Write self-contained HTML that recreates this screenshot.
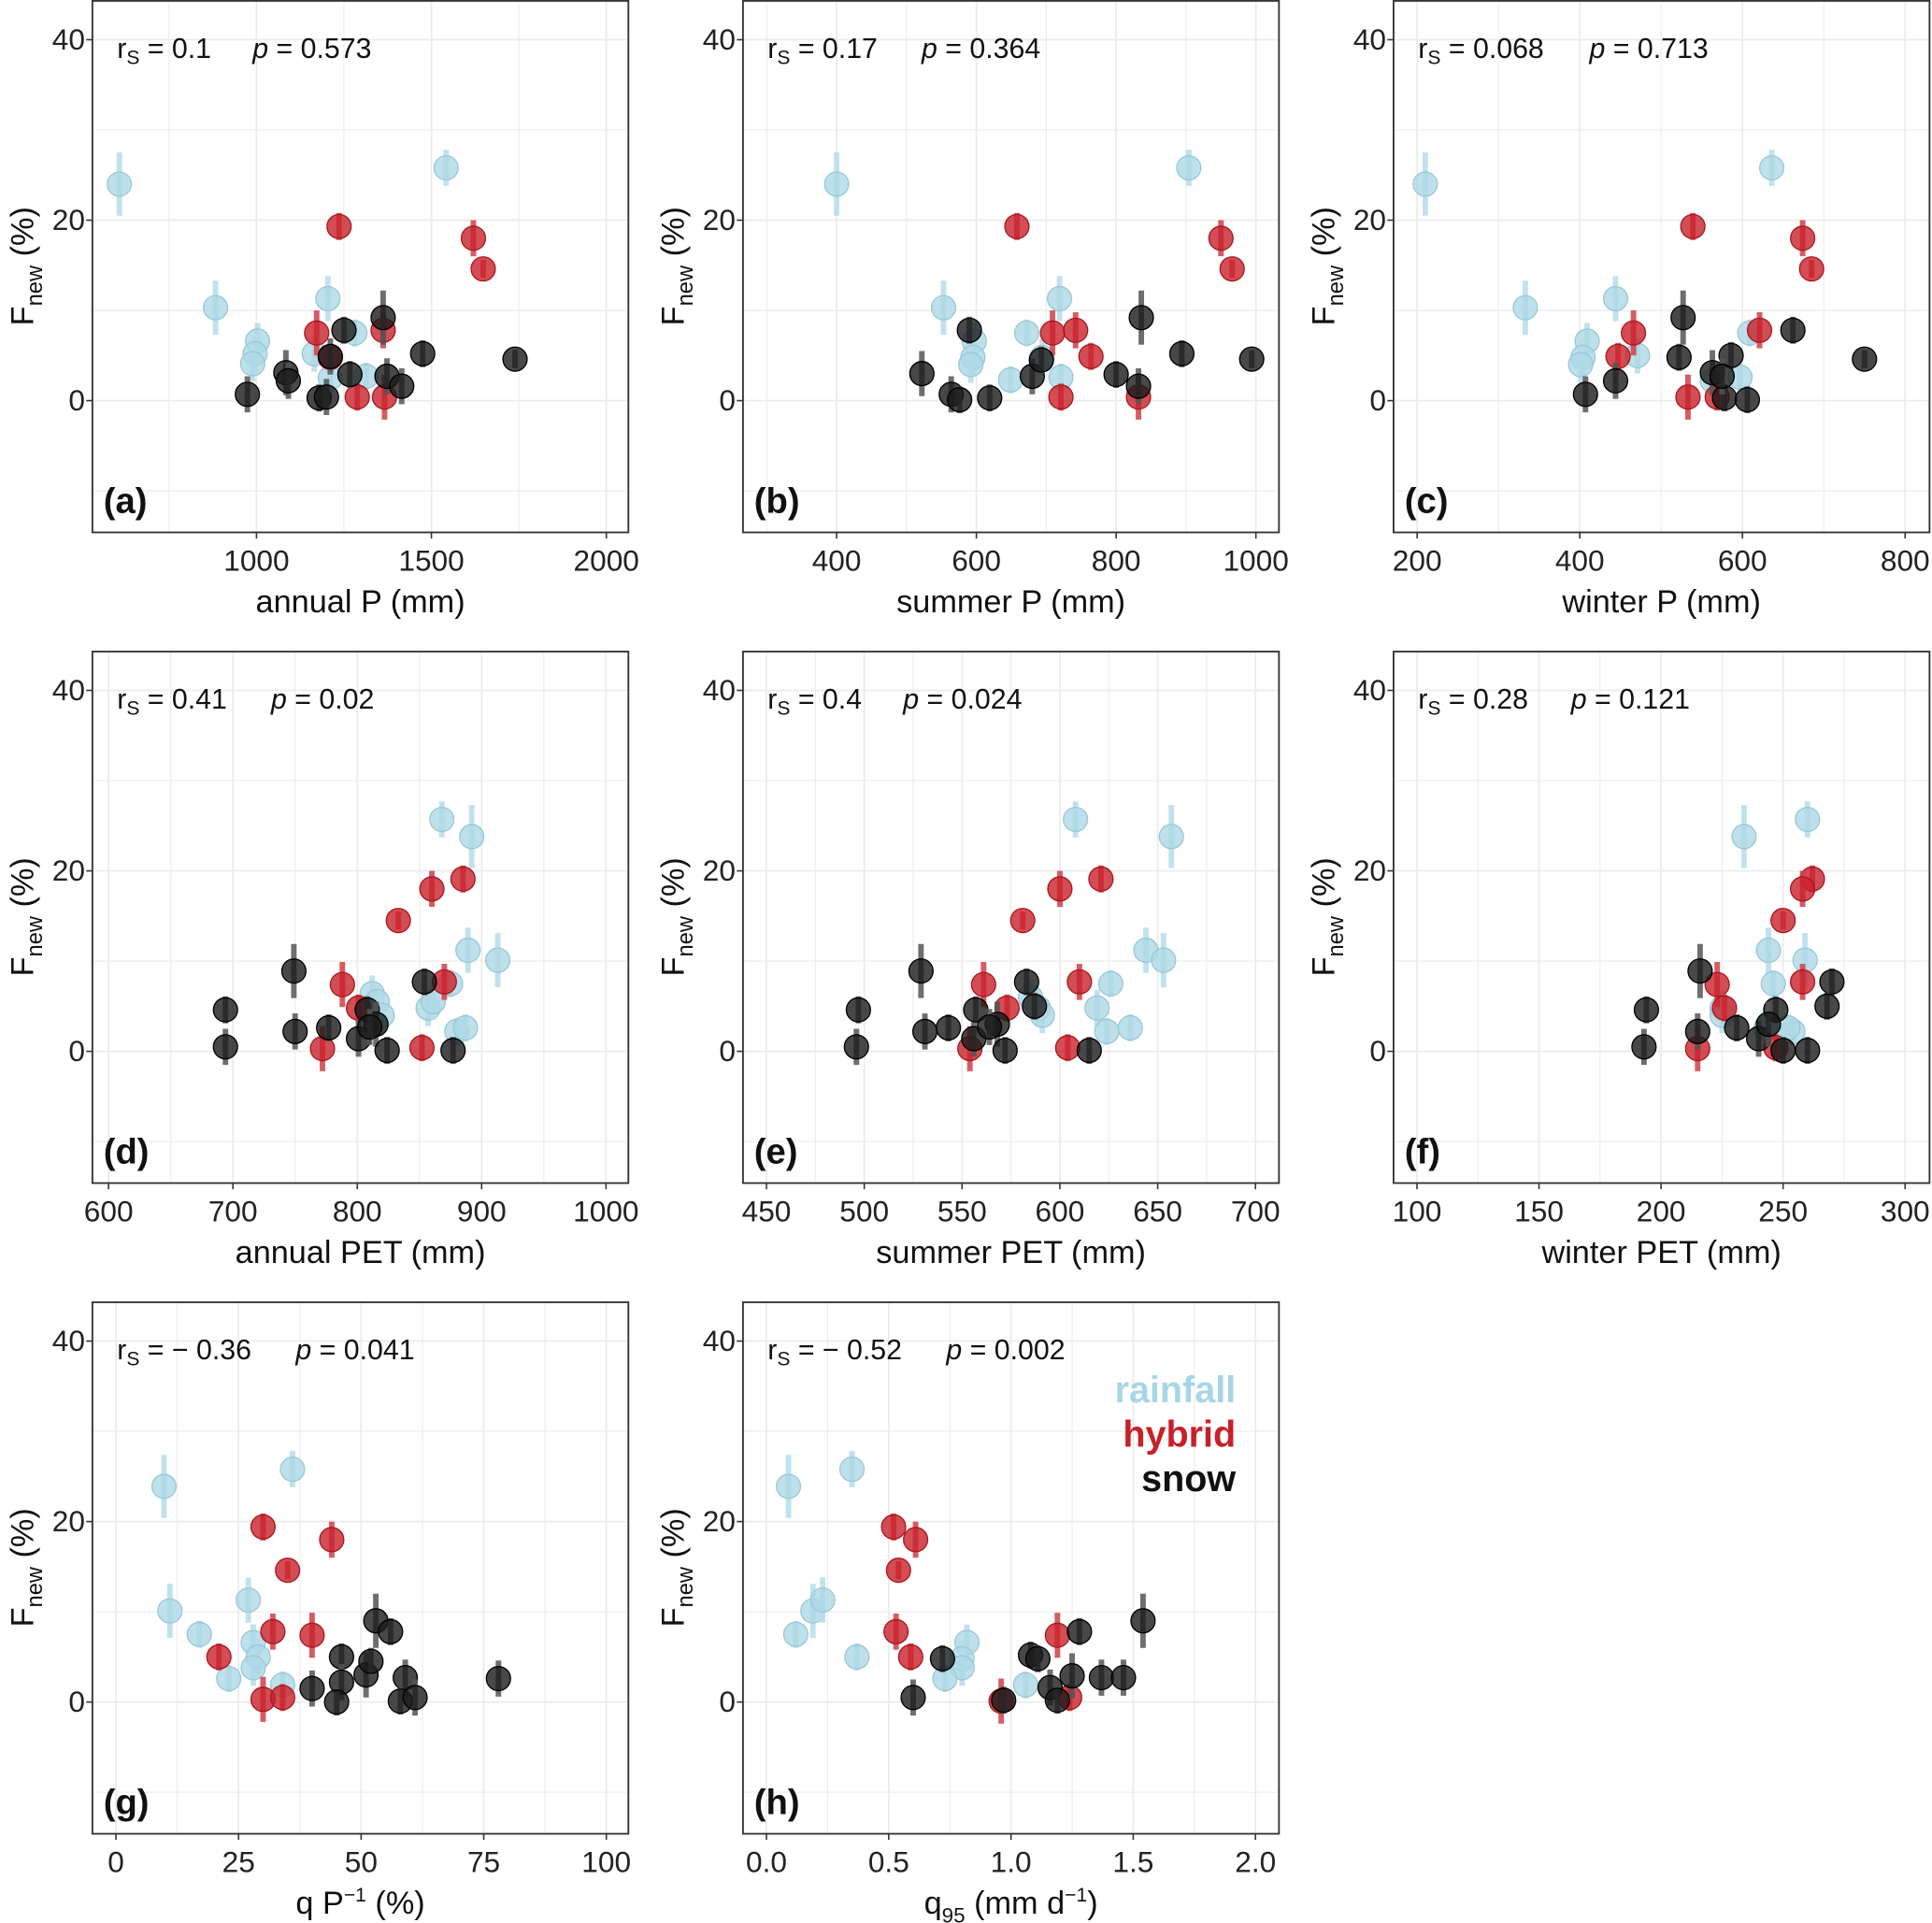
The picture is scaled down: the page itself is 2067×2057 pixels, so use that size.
<!DOCTYPE html>
<html><head><meta charset="utf-8"><style>
html,body{margin:0;padding:0;background:#fff;}
svg{display:block;font-family:"Liberation Sans",sans-serif;}
</style></head><body>
<svg id="fig" width="2067" height="2057" viewBox="0 0 1568 1560.4" xmlns="http://www.w3.org/2000/svg"></svg>
<script>
// data: [x, Fnew(%), errHalf]
const aRain=[[608,24,3.5],[883,10.3,3],[1003,6.6,2],[996,5.2,2],[989,4.1,2],[1165,5.2,2],[1204,11.3,2.5],[1211,2.5,2],[1281,7.5,1.5],[1313,2.7,1.5],[1542,25.8,2]];
const aHybrid=[[1236,19.3,1.5],[1172,7.5,2.5],[1211,4.8,1.5],[1288,0.4,1.5],[1362,7.8,2],[1366,0.4,2.5],[1620,18,2],[1648,14.6,1]];
const aSnow=[[974,0.7,2],[1084,3.1,2.5],[1091,2.2,2],[1179,0.3,1.5],[1200,0.4,2],[1211,4.9,2],[1250,7.8,1.5],[1267,2.9,1.5],[1362,9.2,3],[1373,2.7,2],[1415,1.6,2],[1475,5.2,1.5],[1739,4.6,1]];
const bRain=[[400,24,3.5],[553,10.3,3],[597,6.6,2],[595,4.8,2],[592,4,2],[672,7.5,1.5],[719,11.3,2.5],[721,2.6,1.5],[694,4.8,2],[649,2.3,1.5],[904,25.8,2]];
const bHybrid=[[658,19.3,1.5],[709,7.5,2.5],[742,7.8,2],[764,4.9,1.5],[721,0.4,1.5],[832,0.4,2.5],[950,18,2],[966,14.6,1]];
const bSnow=[[522,3,2.5],[564,0.7,2],[576,0.1,1.5],[619,0.3,1.5],[590,7.8,1.5],[680,2.7,2],[693,4.5,1.5],[800,2.9,1.5],[832,1.6,2],[836,9.2,3],[894,5.2,1.5],[994,4.6,1]];
const cRain=[[210,24,3.5],[333,10.3,3],[444,11.3,2.5],[409,6.6,2],[404,4.8,2],[401,4,2],[471,5,2],[636,25.8,2],[597,2.6,1.5],[563,2.2,1.5],[609,7.5,1.5]];
const cHybrid=[[539,19.3,1.5],[466,7.5,2.5],[447,4.9,1.5],[533,0.4,2.5],[569,0.4,1.5],[621,7.8,2],[674,18,2],[685,14.6,1]];
const cSnow=[[407,0.7,2],[444,2.2,2],[527,9.2,3],[522,4.8,1.5],[563,3.1,2.5],[586,5,1.5],[578,0.3,1.5],[606,0.1,1.5],[662,7.8,1.5],[750,4.6,1],[575,2.7,2]];
const dRain=[[868,25.7,2],[892,23.8,3.5],[889,11.2,2.5],[913,10.1,3],[812,6.4,2],[816,5.5,2],[857,4.8,2],[861,5.5,2],[875,7.5,1.5],[880,2.2,1.5],[887,2.6,1.5],[820,4,2]];
const dHybrid=[[885,19.1,1.5],[860,18,2],[833,14.5,1],[788,7.4,2.5],[870,7.7,2],[801,4.8,1.5],[772,0.3,2.5],[852,0.4,1.5]];
const dSnow=[[694,0.5,2],[694,4.6,1.5],[749,8.9,3],[750,2.2,2],[777,2.6,1.5],[801,1.4,2],[808,4.6,1.5],[815,3,2.5],[824,0.1,1.5],[854,7.7,1.5],[877,0.1,1.5],[810,2.7,2]];
const eRain=[[608,25.7,2],[657,23.8,3.5],[644,11.2,2.5],[653,10.1,3],[619,4.8,2],[626,7.5,1.5],[624,2.2,1.5],[636,2.6,1.5],[589,4.8,2],[591,4,2],[585,6,2]];
const eHybrid=[[621,19.1,1.5],[600,18,2],[581,14.5,1],[561,7.4,2.5],[610,7.7,2],[573,4.8,1.5],[554,0.3,2.5],[604,0.4,1.5]];
const eSnow=[[496,0.5,2],[497,4.6,1.5],[529,8.9,3],[531,2.2,2],[543,2.6,1.5],[556,1.4,2],[557,4.6,1.5],[568,3,2.5],[572,0.1,1.5],[583,7.7,1.5],[615,0.1,1.5],[564,2.7,2],[587,5,1.5]];
const fRain=[[260,25.7,2],[234,23.8,3.5],[244,11.2,2.5],[259,10.1,3],[246,7.5,1.5],[225,4.8,2],[225,4,2],[243,2.6,1.5],[254,2.2,1.5],[252,2.6,1.5]];
const fHybrid=[[262,19.1,1.5],[258,18,2],[250,14.5,1],[223,7.4,2.5],[258,7.7,2],[226,4.8,1.5],[215,0.3,2.5],[247,0.4,1.5]];
const fSnow=[[193,0.5,2],[194,4.6,1.5],[216,8.9,3],[215,2.2,2],[231,2.6,1.5],[240,1.4,2],[247,4.6,1.5],[244,3,2.5],[250,0.1,1.5],[270,7.7,1.5],[260,0.1,1.5],[268,5,1.5]];
const gRain=[[36,25.8,2],[9.8,23.9,3.5],[11,10.1,3],[27,11.3,2.5],[17,7.5,1.5],[28,6.6,2],[29,5,2],[28,3.8,2],[23,2.6,1.5],[34,1.9,1.5]];
const gHybrid=[[30,19.4,1.5],[35,14.6,1],[44,18,2],[32,7.8,2],[40,7.4,2.5],[21,5,1.5],[30,0.3,2.5],[34,0.5,1.5]];
const gSnow=[[53,9,3],[56,7.8,1.5],[46,5,1.5],[40,1.5,2],[46,2.2,2],[45,0,1.5],[51,3,2.5],[52,4.5,1.5],[59,2.7,2],[58,0.1,1.5],[61,0.5,2],[78,2.6,2]];
const hRain=[[0.35,25.8,2],[0.09,23.9,3.5],[0.19,10.1,3],[0.23,11.3,2.5],[0.12,7.5,1.5],[0.37,5,1.5],[0.82,6.6,2],[0.8,4.8,2],[0.8,3.8,2],[0.73,2.6,1.5],[1.06,1.9,1.5]];
const hHybrid=[[0.52,19.4,1.5],[0.54,14.6,1],[0.61,18,2],[0.53,7.8,2],[0.59,5,1.5],[1.19,7.4,2.5],[0.96,0.1,2.5],[1.24,0.5,1.5]];
const hSnow=[[0.6,0.5,2],[0.72,4.8,1.5],[1.08,5.2,1.5],[1.11,4.8,1.5],[1.16,1.6,2],[1.19,0.2,1.5],[1.25,2.9,2.5],[1.28,7.8,1.5],[1.37,2.7,2],[1.46,2.7,2],[1.54,9,3],[0.97,0.2,1.5]];
const yTicks=[0,20,40];
const yGrid=[-10,0,10,20,30,40];

const panels=[
 {id:'a',left:75,top:0,dom:[531,2063],ticks:[1000,1500,2000],minor:[750,1250,1750],xlab:'annual P (mm)',rs:'0.1',p:'0.573',px:205,data:[aRain,aHybrid,aSnow]},
 {id:'b',left:603,top:0,dom:[266,1033],ticks:[400,600,800,1000],minor:[300,500,700,900],xlab:'summer P (mm)',rs:'0.17',p:'0.364',px:748,data:[bRain,bHybrid,bSnow]},
 {id:'c',left:1131,top:0,dom:[171,830],ticks:[200,400,600,800],minor:[300,500,700],xlab:'winter P (mm)',rs:'0.068',p:'0.713',px:1290,data:[cRain,cHybrid,cSnow]},
 {id:'d',left:75,top:528,dom:[587,1018],ticks:[600,700,800,900,1000],minor:[650,750,850,950],xlab:'annual PET (mm)',rs:'0.41',p:'0.02',px:220,data:[dRain,dHybrid,dSnow]},
 {id:'e',left:603,top:528,dom:[438,712],ticks:[450,500,550,600,650,700],minor:[475,525,575,625,675],xlab:'summer PET (mm)',rs:'0.4',p:'0.024',px:733,data:[eRain,eHybrid,eSnow]},
 {id:'f',left:1131,top:528,dom:[90.4,310],ticks:[100,150,200,250,300],minor:[125,175,225,275],xlab:'winter PET (mm)',rs:'0.28',p:'0.121',px:1275,data:[fRain,fHybrid,fSnow]},
 {id:'g',left:75,top:1056,dom:[-4.8,104.5],ticks:[0,25,50,75,100],minor:[12.5,37.5,62.5,87.5],xlab:'q P<tspan dy="-10" font-size="16">−1</tspan><tspan dy="10"> (%)</tspan>',rs:'− 0.36',p:'0.041',px:240,data:[gRain,gHybrid,gSnow]},
 {id:'h',left:603,top:1056,dom:[-0.096,2.096],ticks:[0,0.5,1,1.5,2],minor:[0.25,0.75,1.25,1.75],tl:['0.0','0.5','1.0','1.5','2.0'],xlab:'q<tspan dy="7" font-size="17">95</tspan><tspan dy="-7"> (mm d</tspan><tspan dy="-10" font-size="16">−1</tspan><tspan dy="10">)</tspan>',rs:'− 0.52',p:'0.002',px:768,data:[hRain,hHybrid,hSnow]}
];
const W=435,H=432,YMIN=-14.6,YMAX=44.4;
const fills=['#add8e6','#c8202a','#1a1a1a'];
const strokes=['#9cc7d6','#a81820','#000'];
const bars=['#b7dde9','#d0404a','#555'];
const svg=document.getElementById('fig');
const NS='http://www.w3.org/2000/svg';
function mk(tag,attrs,parent){const e=document.createElementNS(NS,tag);for(const k in attrs)e.setAttribute(k,attrs[k]);(parent||svg).appendChild(e);return e;}
panels.forEach(P=>{
 const g=mk('g',{});
 
 
 const sx=v=>P.left+(v-P.dom[0])/(P.dom[1]-P.dom[0])*W;
 const sy=v=>P.top+(YMAX-v)/(YMAX-YMIN)*H;
 mk('rect',{x:P.left,y:P.top,width:W,height:H,fill:'#fff'},g);
 yGrid.forEach(v=>{const l=mk('line',{x1:P.left,x2:P.left+W,y1:sy(v),y2:sy(v),stroke:'#ebebeb','stroke-width':v%20===0?1.3:0.8},g);});
 P.minor.concat(P.ticks).forEach((v,i)=>{const l=mk('line',{x1:sx(v),x2:sx(v),y1:P.top,y2:P.top+H,stroke:'#ebebeb','stroke-width':i<P.minor.length?0.8:1.3},g);});
 P.data.forEach((arr,k)=>{
  arr.forEach(d=>{
   const cx=sx(d[0]),cy=sy(d[1]);
   const b=mk('line',{x1:cx,x2:cx,y1:sy(d[1]+d[2]),y2:sy(d[1]-d[2]),stroke:bars[k],'stroke-width':4.5,opacity:0.85},g);
   
   
   const c=mk('circle',{cx:cx,cy:cy,r:9.8,fill:fills[k],stroke:strokes[k],'stroke-width':1,'fill-opacity':0.8},g);
   
   
  });
 });
 const fr=mk('rect',{x:P.left,y:P.top+0.7,width:W,height:H-0.7,fill:'none',stroke:'#333','stroke-width':1.4},g);
 
 yTicks.forEach(v=>{
  mk('line',{x1:P.left-5,x2:P.left,y1:sy(v),y2:sy(v),stroke:'#333','stroke-width':1.2},g);
  const t=mk('text',{x:P.left-6,y:sy(v)+8,'font-size':24,'text-anchor':'end',fill:'#222'},g);t.textContent=v;
  
 });
 P.ticks.forEach((v,i)=>{
  mk('line',{x1:sx(v),x2:sx(v),y1:P.top+H,y2:P.top+H+5,stroke:'#333','stroke-width':1.2},g);
  const t=mk('text',{x:sx(v),y:P.top+H+31,'font-size':24,'text-anchor':'middle',fill:'#222'},g);t.textContent=P.tl?P.tl[i]:v;
  
 });
 const xl=mk('text',{x:P.left+W/2,y:P.top+H+65,'font-size':26,'text-anchor':'middle',fill:'#111'},g);
 xl.innerHTML=P.xlab;
 
 const yl=mk('text',{transform:`translate(${P.left-48},${P.top+216}) rotate(-90)`,'font-size':26,'text-anchor':'middle',fill:'#111'},g);
 yl.innerHTML='F<tspan dy="7" font-size="18">new</tspan><tspan dy="-7">   (%)</tspan>';
 
 const rs=mk('text',{x:P.left+20,y:P.top+47,'font-size':23,fill:'#111'},g);
 rs.innerHTML='r<tspan dy="5" font-size="16">S</tspan><tspan dy="-5"> = '+P.rs+'</tspan>';
 
 const pv=mk('text',{x:P.px,y:P.top+47,'font-size':23,fill:'#111'},g);
 pv.innerHTML='<tspan font-style="italic">p</tspan> = '+P.p;
 
 const pl=mk('text',{x:P.left+9,y:P.top+416,'font-size':29,'font-weight':'bold',fill:'#111'},g);
 pl.textContent='('+P.id+')';
 
});
[['rainfall','#a7d6e6',1138],['hybrid','#c8202a',1174],['snow','#111',1210]].forEach(L=>{
 const t=mk('text',{x:1003,y:L[2],'font-size':30,'font-weight':'bold','text-anchor':'end',fill:L[1]});
 t.textContent=L[0];
 
 
});
</script>
</body></html>
